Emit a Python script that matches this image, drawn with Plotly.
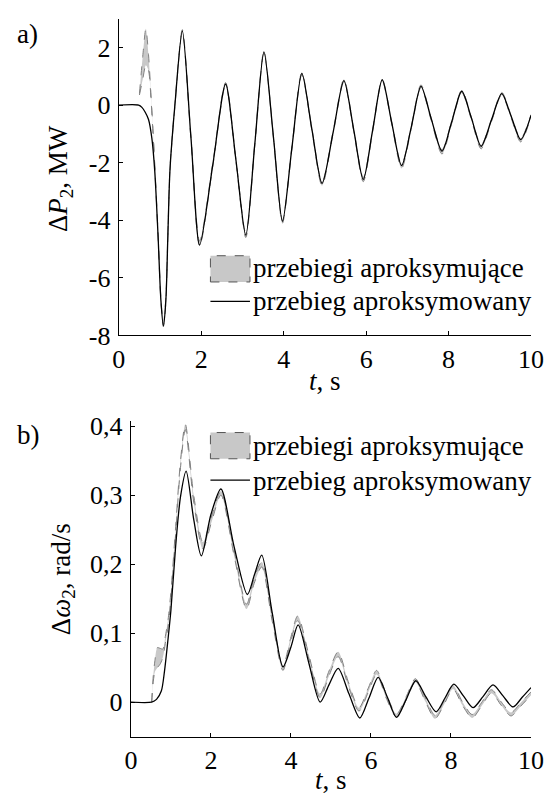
import plotly.graph_objects as go

W, H = 558, 807

# ---------------- panel a) : delta P2 [MW] ----------------
A_T = [0, 0.48, 0.56, 0.64, 0.72, 0.80, 0.87, 0.95, 1.02, 1.08, 1.14, 1.19, 1.24, 1.36,
       1.54, 1.75, 1.96, 2.28, 2.59, 2.84, 3.08, 3.30, 3.52, 3.75, 3.97, 4.20, 4.44, 4.68,
       4.93, 5.20, 5.46, 5.70, 5.93, 6.16, 6.39, 6.62, 6.86, 7.10, 7.33, 7.58, 7.84, 8.08,
       8.32, 8.56, 8.79, 9.04, 9.29, 9.52, 9.75, 10.0]
A_REF = [0, 0, -0.08, -0.25, -0.5, -1.14, -2.27, -4.5, -6.77, -7.67, -6.8, -4.5, -2.27, 0.0,
         2.58, -1.14, -4.86, -2.07, 0.73, -1.9, -4.52, -1.33, 1.85, -1.10, -4.04, -1.47, 1.10, -0.81,
         -2.72, -0.94, 0.85, -0.87, -2.58, -0.85, 0.88, -0.61, -2.10, -0.73, 0.65, -0.48, -1.60, -0.56,
         0.48, -0.48, -1.43, -0.52, 0.40, -0.40, -1.20, -0.36]

A_BAND_T = [0.50, 0.58, 0.655, 0.72, 0.78, 0.83, 0.88, 0.95, 1.02, 1.08, 1.14, 1.19, 1.24, 1.36,
            1.54, 1.75, 1.96, 2.28, 2.59, 2.84, 3.08, 3.30, 3.52, 3.75, 3.97, 4.20, 4.44, 4.68,
            4.93, 5.20, 5.46, 5.70, 5.93, 6.16, 6.39, 6.62, 6.86, 7.10, 7.33, 7.58, 7.84, 8.08,
            8.32, 8.56, 8.79, 9.04, 9.29, 9.52, 9.75, 10.0]
A_UP = [0.40, 1.70, 2.65, 1.75, 0.35, -0.9, -2.3, -4.4, -6.7, -7.6, -6.7, -4.4, -2.2, 0.05,
        2.62, -1.1, -4.72, -2.0, 0.78, -1.88, -4.45, -1.3, 1.88, -1.08, -4.0, -1.44, 1.14, -0.78,
        -2.66, -0.9, 0.90, -0.84, -2.52, -0.82, 0.90, -0.58, -2.05, -0.7, 0.70, -0.46, -1.55, -0.53,
        0.52, -0.45, -1.38, -0.5, 0.44, -0.37, -1.15, -0.33]
A_LO = [0.35, 0.90, 1.38, 1.20, 0.2, -1.0, -2.4, -4.5, -6.8, -7.7, -6.85, -4.55, -2.3, -0.05,
        2.52, -1.2, -4.9, -2.12, 0.68, -1.95, -4.6, -1.38, 1.80, -1.15, -4.1, -1.52, 1.05, -0.86,
        -2.8, -0.98, 0.80, -0.92, -2.66, -0.9, 0.83, -0.66, -2.2, -0.78, 0.60, -0.54, -1.70, -0.62,
        0.43, -0.54, -1.52, -0.58, 0.35, -0.46, -1.28, -0.40]

# ---------------- panel b) : delta omega2 [rad/s] ----------------
B_T = [0, 0.52, 0.64, 0.76, 0.84, 0.92, 1.00, 1.12, 1.24, 1.38, 1.57, 1.76, 2.00, 2.25,
       2.58, 2.91, 3.09, 3.27, 3.53, 3.80, 4.00, 4.18, 4.45, 4.73, 4.95, 5.18, 5.45, 5.72,
       5.95, 6.18, 6.41, 6.64, 6.88, 7.12, 7.37, 7.63, 7.85, 8.07, 8.31, 8.55, 8.80, 9.05,
       9.30, 9.55, 9.78, 10.0]
B_REF = [0, 0, 0.004, 0.016, 0.045, 0.087, 0.133, 0.227, 0.298, 0.335, 0.265, 0.212, 0.272, 0.309,
         0.225, 0.156, 0.185, 0.213, 0.13, 0.051, 0.08, 0.112, 0.056, 0.0, 0.025, 0.049, 0.012, -0.023,
         0.006, 0.036, 0.007, -0.022, 0.004, 0.031, 0.008, -0.014, 0.006, 0.026, 0.009, -0.008, 0.008, 0.025,
         0.009, -0.007, 0.007, 0.021]

B_BAND_T = [0.52, 0.56, 0.60, 0.66, 0.73, 0.80, 0.86, 0.93, 1.00, 1.12, 1.24, 1.36, 1.57, 1.80,
            2.02, 2.25, 2.58, 2.89, 3.08, 3.27, 3.53, 3.80, 3.98, 4.17, 4.45, 4.73, 4.95, 5.18,
            5.43, 5.70, 5.93, 6.14, 6.38, 6.64, 6.88, 7.11, 7.36, 7.60, 7.83, 8.05, 8.29, 8.53,
            8.76, 9.01, 9.26, 9.50, 9.74, 10.0]
B_UP = [0.0, 0.039, 0.060, 0.079, 0.078, 0.077, 0.095, 0.12, 0.16, 0.255, 0.35, 0.403, 0.30, 0.232,
        0.27, 0.306, 0.22, 0.142, 0.18, 0.203, 0.125, 0.052, 0.09, 0.125, 0.068, 0.012, 0.045, 0.073,
        0.030, -0.008, 0.020, 0.046, 0.012, -0.017, 0.008, 0.034, 0.006, -0.019, 0.002, 0.024, 0.0, -0.018,
        -0.001, 0.018, 0.0, -0.015, -0.001, 0.015]
B_LO = [0.0, 0.030, 0.044, 0.050, 0.055, 0.065, 0.085, 0.11, 0.15, 0.245, 0.34, 0.395, 0.29, 0.222,
        0.262, 0.300, 0.212, 0.135, 0.172, 0.196, 0.118, 0.046, 0.084, 0.118, 0.062, 0.006, 0.038, 0.066,
        0.024, -0.013, 0.014, 0.040, 0.006, -0.022, 0.003, 0.029, 0.001, -0.024, -0.003, 0.019, -0.005, -0.023,
        -0.006, 0.013, -0.005, -0.020, -0.006, 0.010]

# ---------------- ticks / labels ----------------
X_TICKS = [0, 2, 4, 6, 8, 10]
X_TICKTEXT = ["0", "2", "4", "6", "8", "10"]
A_YTICKS = [-8, -6, -4, -2, 0, 2]
A_YTICKTEXT = ["-8", "-6", "-4", "-2", "0", "2"]
B_YTICKS = [0, 0.1, 0.2, 0.3, 0.4]
B_YTICKTEXT = ["0", "0,1", "0,2", "0,3", "0,4"]
LEG_BAND = "przebiegi aproksymujące"
LEG_REF = "przebieg aproksymowany"

FONT = "Liberation Serif"
TICK_SIZE = 26
TEXT_SIZE = 27
GRAY_FILL = "#c8c8c8"
GRAY_LINE = "#808080"


def px(x):
    return x / W


def py(y):
    return 1 - y / H


fig = go.Figure()


def add_panel(t_band, lo, up, t_ref, ref, xa, ya):
    fig.add_trace(go.Scatter(x=t_band, y=lo, mode="lines", xaxis=xa, yaxis=ya,
                             line=dict(color=GRAY_LINE, width=1, dash="dash", shape="spline", smoothing=0.8),
                             showlegend=False, hoverinfo="skip"))
    fig.add_trace(go.Scatter(x=t_band, y=up, mode="lines", xaxis=xa, yaxis=ya, fill="tonexty",
                             fillcolor=GRAY_FILL,
                             line=dict(color=GRAY_LINE, width=1, dash="dash", shape="spline", smoothing=0.8),
                             showlegend=False, hoverinfo="skip"))
    fig.add_trace(go.Scatter(x=t_ref, y=ref, mode="lines", xaxis=xa, yaxis=ya,
                             line=dict(color="black", width=1.3, shape="spline", smoothing=0.8),
                             showlegend=False))


add_panel(A_BAND_T, A_LO, A_UP, A_T, A_REF, "x", "y")
add_panel(B_BAND_T, B_LO, B_UP, B_T, B_REF, "x2", "y2")

axis_common = dict(showline=True, linecolor="black", linewidth=1.2, ticks="inside", ticklen=4,
                   tickcolor="black", tickwidth=1, showgrid=False, zeroline=False, mirror=False,
                   tickfont=dict(family=FONT, size=TICK_SIZE, color="black"))

fig.update_layout(
    width=W, height=H, autosize=False,
    margin=dict(l=0, r=0, t=0, b=0),
    paper_bgcolor="white", plot_bgcolor="white",
    font=dict(family=FONT, size=TEXT_SIZE, color="black"),
    xaxis=dict(domain=[px(116), px(543.5)], range=[0, 10], tickvals=X_TICKS, ticktext=X_TICKTEXT,
               anchor="y", **axis_common),
    yaxis=dict(domain=[py(337), py(11)], range=[-8, 3], tickvals=A_YTICKS, ticktext=A_YTICKTEXT,
               anchor="x", ticklabelstandoff=2, **axis_common),
    xaxis2=dict(domain=[px(128.5), px(543.5)], range=[0, 10], tickvals=X_TICKS, ticktext=X_TICKTEXT,
                anchor="y2", **axis_common),
    yaxis2=dict(domain=[py(750), py(424.8)], range=[-0.05, 0.408], tickvals=B_YTICKS,
                ticktext=B_YTICKTEXT, anchor="x2", ticklabelstandoff=2, **axis_common),
)

tf = dict(family=FONT, size=TEXT_SIZE, color="black")
ann = []
ann.append(dict(text="a)", x=px(8), y=py(27), xanchor="left", yanchor="middle"))
ann.append(dict(text="b)", x=px(8), y=py(440), xanchor="left", yanchor="middle"))
ann.append(dict(text="Δ<i>P</i><sub>2</sub>, MW", x=px(55), y=py(176), textangle=-90,
                xanchor="center", yanchor="middle"))
ann.append(dict(text="Δ<i>ω</i><sub>2</sub>, rad/s", x=px(58), y=py(588), textangle=-90,
                xanchor="center", yanchor="middle"))
ann.append(dict(text="<i>t</i>, s", x=px(330), y=py(384), xanchor="center", yanchor="middle"))
ann.append(dict(text="<i>t</i>, s", x=px(336), y=py(795), xanchor="center", yanchor="middle"))
# legends
for (yb0, yb1, yl, yt1, yt2) in [(255, 282, 302, 268, 302), (437, 464, 486, 451, 487)]:
    ann.append(dict(text=LEG_BAND, x=px(253), y=py(yt1), xanchor="left", yanchor="middle"))
    ann.append(dict(text=LEG_REF, x=px(253), y=py(yt2), xanchor="left", yanchor="middle"))
    fig.add_shape(type="rect", xref="paper", yref="paper", x0=px(211), x1=px(252), y0=py(yb1), y1=py(yb0),
                  fillcolor=GRAY_FILL, line=dict(color="#555555", width=1, dash="dash"))
    fig.add_shape(type="line", xref="paper", yref="paper", x0=px(211), x1=px(252), y0=py(yl), y1=py(yl),
                  line=dict(color="black", width=1.2))

for a in ann:
    a.update(xref="paper", yref="paper", showarrow=False, font=tf)
    fig.add_annotation(**a)

fig.write_html("out.html", config={"displayModeBar": False},
               post_script="document.body.style.margin='0';document.body.style.padding='0';"
                           "document.body.style.overflow='hidden';")
